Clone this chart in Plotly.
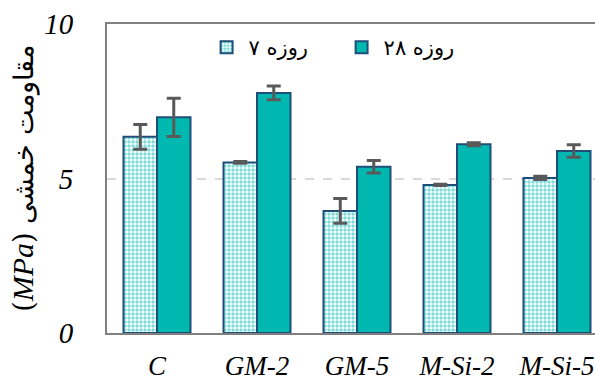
import plotly.graph_objects as go

categories = ["C", "GM-2", "GM-5", "M-Si-2", "M-Si-5"]
day7 = [6.35, 5.52, 3.95, 4.79, 5.02]
day7_err = [0.40, 0.03, 0.40, 0.02, 0.05]
day28 = [6.98, 7.77, 5.38, 6.11, 5.89]
day28_err = [0.62, 0.22, 0.20, 0.05, 0.20]
legend_names = ["۷ روزه", "۲۸ روزه"]
y_ticks = [0, 5, 10]

teal = "#00B8B0"
edge = "#1F4E79"
errc = "#595959"

fig = go.Figure()
fig.add_trace(go.Bar(
    x=categories, y=day7, name=legend_names[0],
    marker=dict(color="white", line=dict(color=edge, width=2),
                pattern=dict(shape=".", fgcolor=teal, bgcolor="white", size=4, solidity=0.6, fillmode="overlay")),
    error_y=dict(type="data", array=day7_err, color=errc, thickness=3, width=7),
))
fig.add_trace(go.Bar(
    x=categories, y=day28, name=legend_names[1],
    marker=dict(color=teal, line=dict(color=edge, width=2)),
    error_y=dict(type="data", array=day28_err, color=errc, thickness=3, width=7),
))

fig.update_layout(
    width=595, height=380,
    margin=dict(l=107, r=0, t=24, b=47, autoexpand=False),
    paper_bgcolor="white", plot_bgcolor="white",
    barmode="group", bargap=0.33, bargroupgap=0,
    showlegend=True,
    legend=dict(orientation="h", x=0.2, y=0.99, xanchor="left", yanchor="top",
                font=dict(family="DejaVu Sans", size=21, color="black"),
                bgcolor="rgba(0,0,0,0)", itemwidth=34, entrywidth=86, tracegroupgap=0),
    xaxis=dict(range=[-0.5, 4.38], showline=True, linecolor="#808080", linewidth=2, mirror=True,
               ticks="", ticklabelstandoff=8, automargin=False,
               tickfont=dict(family="Liberation Serif", size=27, color="black", style="italic")),
    yaxis=dict(range=[0, 10], tickvals=y_ticks, showline=True, linecolor="#808080", linewidth=2,
               showgrid=True, gridcolor="#D9D9D9", griddash="dash", gridwidth=2, zeroline=False,
               ticks="", ticklabelstandoff=26, automargin=False,
               tickfont=dict(family="Liberation Serif", size=29, color="black", style="italic"),
               title=dict(text="(<i><span style='font-family:Liberation Serif;font-size:30px'>MPa</span></i>) مقاومت خمشی",
                          standoff=3,
                          font=dict(family="DejaVu Serif", size=27, color="black"))),
)

fig.write_html("out.html")
